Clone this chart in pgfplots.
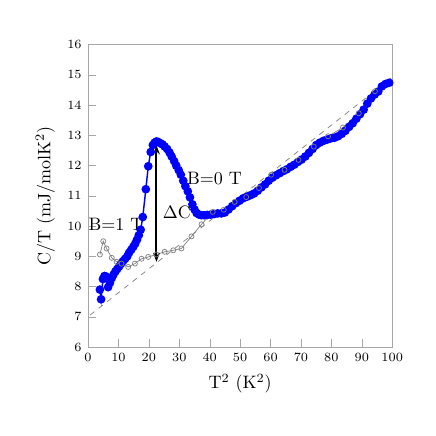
\documentclass[border=0pt]{standalone}
\usepackage{pgfplots}
\pgfplotsset{compat=1.18}
\usetikzlibrary{arrows.meta}

\begin{document}
\begin{tikzpicture}
\useasboundingbox (-48.9pt,-49.4pt) rectangle (193.3pt,192.8pt);
\begin{axis}[
  at={(0,0)}, anchor=south west,
  scale only axis,
  width=169pt, height=168pt,
  xmin=0, xmax=100, ymin=6, ymax=16,
  xtick={0,10,...,100}, ytick={6,7,...,16},
  tick pos=left, tick align=inside,
  axis line style={gray!70},
  major tick style={gray!70},
  tick label style={font=\fontsize{7.4}{9}\selectfont},
  xlabel={T$^2$ (K$^2$)},
  ylabel={C/T (mJ/molK$^2$)},
  clip=false,
]
% Debye-like background
\addplot[gray, dashed, thin] coordinates {(0.7,7.06) (99.6,14.89)};

% B = 0 T
\addplot[blue, thick, mark=*, mark size=2pt, mark options={fill=blue}] coordinates {
  (3.9,7.90) (4.3,7.58) (4.9,8.25) (5.4,8.35) (6.0,8.33) (6.5,8.28) (6.6,7.98)
  (7.2,8.12) (7.8,8.28) (8.4,8.40) (9.0,8.50) (9.6,8.58) (10.2,8.66) (10.8,8.75)
  (11.5,8.84) (12.2,8.92) (12.9,9.00) (13.5,9.12) (14.2,9.22) (14.9,9.32)
  (15.5,9.42) (16.1,9.55) (16.7,9.70) (17.3,9.88) (18.0,10.30) (19.0,11.22)
  (19.8,11.98) (20.6,12.45) (21.3,12.68) (21.9,12.76) (22.5,12.80) (23.1,12.78)
  (23.8,12.74) (24.5,12.70) (25.2,12.63) (26.0,12.55) (26.8,12.43) (27.5,12.30)
  (28.3,12.15) (29.0,12.00) (29.8,11.85) (30.5,11.70) (31.3,11.50) (32.0,11.32)
  (32.8,11.15) (33.5,10.95) (34.3,10.72) (35.0,10.55) (35.7,10.43) (36.5,10.38)
  (37.3,10.36) (38.2,10.36) (39.2,10.37) (40.3,10.38) (41.5,10.40) (42.6,10.42)
  (43.8,10.42) (45.0,10.45) (46.2,10.55) (47.4,10.66) (48.6,10.76) (49.8,10.84)
  (51.0,10.92) (52.2,10.97) (53.4,11.02) (54.6,11.08) (55.8,11.17) (57.0,11.28)
  (58.2,11.38) (59.4,11.50) (60.6,11.60) (61.8,11.68) (63.0,11.75) (64.2,11.82)
  (65.4,11.88) (66.6,11.96) (67.8,12.03) (69.0,12.12) (70.2,12.20) (71.4,12.30)
  (72.6,12.42) (73.8,12.55) (75.0,12.68) (76.2,12.76) (77.4,12.82) (78.6,12.86)
  (79.8,12.90) (81.0,12.92) (82.2,12.97) (83.4,13.05) (84.6,13.15) (85.8,13.28)
  (87.0,13.40) (88.2,13.55) (89.4,13.70) (90.6,13.85) (91.8,14.05) (93.0,14.22)
  (94.2,14.35) (95.4,14.45) (96.6,14.62) (97.8,14.70) (99.0,14.74)};

% B = 1 T
\addplot[gray, thin, mark=o, mark size=1.4pt,
  mark options={fill=white, draw=gray, solid}] coordinates {
  (3.9,9.06) (5.0,9.50) (6.1,9.26) (7.8,8.95) (9.4,8.82) (11.0,8.76)
  (13.2,8.65) (15.4,8.76) (17.6,8.92) (19.8,8.98) (22.5,9.06) (25.2,9.15)
  (28.0,9.20) (30.7,9.26) (34.0,9.66) (37.3,10.06) (41.0,10.47) (44.6,10.54)
  (48.2,10.80) (52.0,10.96) (56.2,11.26) (60.2,11.70) (64.6,11.86) (69.2,12.19)
  (74.2,12.63) (78.9,12.97) (83.8,13.26) (89.0,13.73) (94.3,14.46)};

\draw[{Stealth[length=5pt]}-{Stealth[length=5pt]}, line width=1.1pt]
  (axis cs:22.5,12.67) -- (axis cs:22.5,8.82);
\node at (axis cs:9.2,10.06) {B=1 T};
\node at (axis cs:29.2,10.46) {$\Delta$C};
\node at (axis cs:41.6,11.58) {B=0 T};
\end{axis}
\end{tikzpicture}
\end{document}
